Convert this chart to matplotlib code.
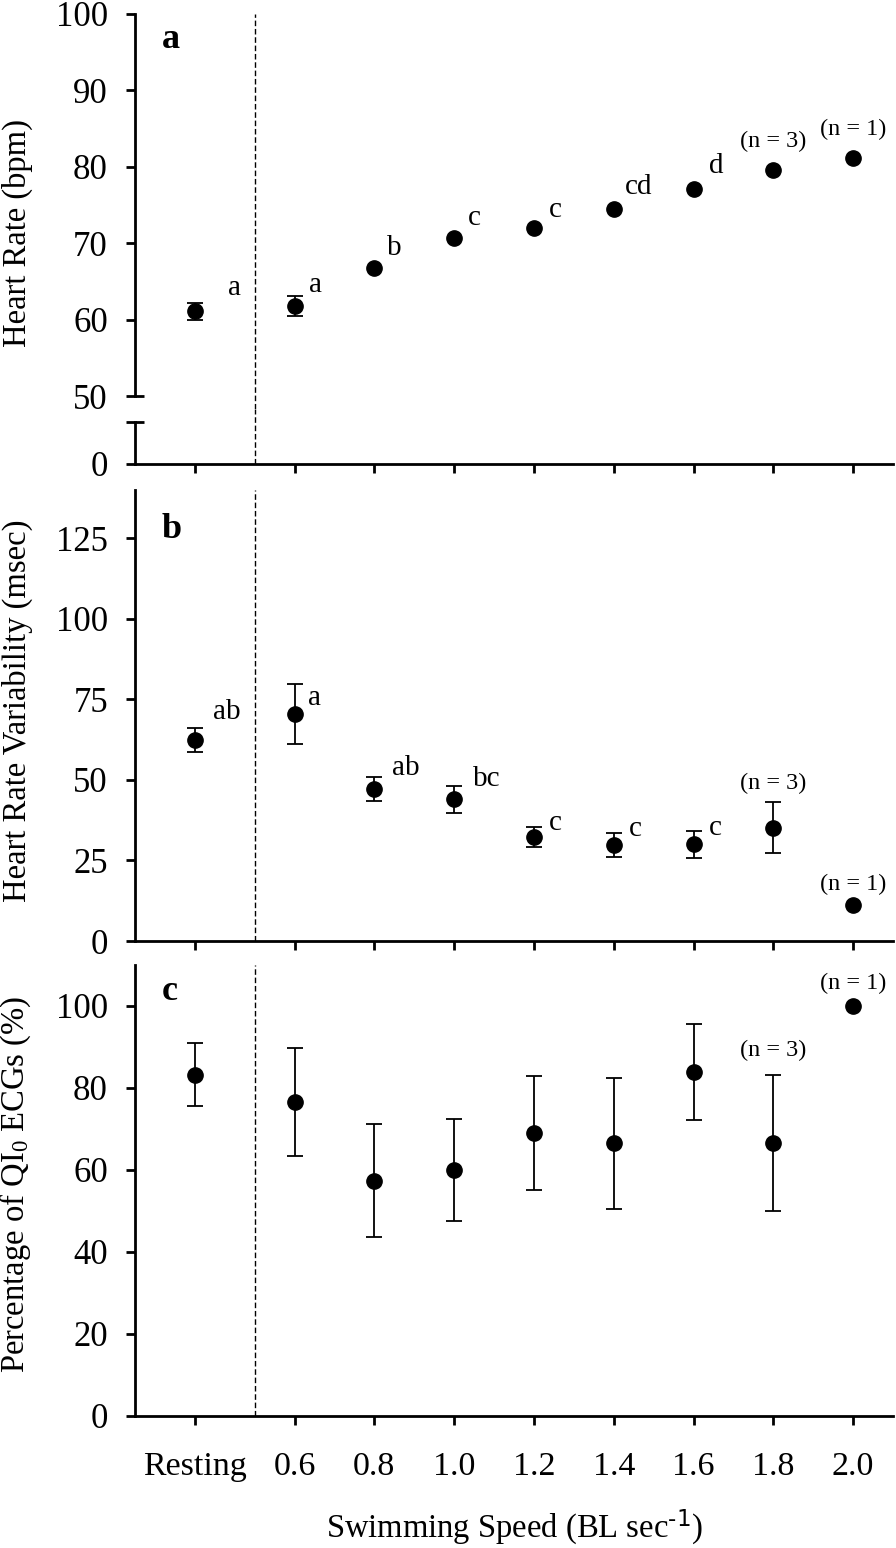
import numpy as np
import matplotlib
matplotlib.use("Agg")
import matplotlib.pyplot as plt

plt.rcParams["font.family"] = ["Liberation Serif", "DejaVu Serif"]
plt.rcParams["mathtext.default"] = "regular"

nan = np.nan

# ── data ───────────────────────────────────────────────────────────────────
SPEEDS = ["Resting", "0.6", "0.8", "1.0", "1.2", "1.4", "1.6", "1.8", "2.0"]

HR = [61.1, 61.8, 66.8, 70.7, 72.0, 74.5, 77.1, 79.6, 81.2]
HR_ERR = [1.1, 1.3, nan, nan, nan, nan, nan, nan, nan]
HR_LETTERS = ["a", "a", "b", "c", "c", "cd", "d", "", ""]

HRV = [62.4, 70.5, 47.3, 44.0, 32.3, 29.9, 30.0, 35.2, 11.2]
HRV_ERR = [3.6, 9.2, 3.75, 4.15, 3.2, 3.7, 4.2, 8.0, nan]
HRV_LETTERS = ["ab", "a", "ab", "bc", "c", "c", "c", "", ""]

QI0 = [83.2, 76.6, 57.4, 59.9, 69.0, 66.5, 83.9, 66.5, 100.0]
QI0_ERR = [7.7, 13.1, 13.75, 12.45, 13.9, 16.0, 11.6, 16.55, nan]

N_NOTES = ["", "", "", "", "", "", "", "(n = 3)", "(n = 1)"]

# ── layout helpers ─────────────────────────────────────────────────────────
W, H = 896, 1548
LEFT, RIGHT = 135, 893
xpos = np.r_[-1.25, np.arange(8)]   # resting sits a bit apart from the speeds
DIVIDER = -0.5
XLIM = (-2, 7.5)

TICK_KW = dict(direction="out", length=6.5, width=2)


def rect(top, bot):
    return [LEFT / W, 1 - bot / H, (RIGHT - LEFT) / W, (bot - top) / H]


def style(ax, bottom=True):
    ax.spines["top"].set_visible(False)
    ax.spines["right"].set_visible(False)
    ax.spines["left"].set_linewidth(2)
    ax.spines["bottom"].set_linewidth(2)
    ax.spines["bottom"].set_visible(bottom)
    ax.set_xlim(*XLIM)
    ax.tick_params(axis="y", pad=13, labelsize=25, **TICK_KW)
    if bottom:
        ax.set_xticks(xpos)
        ax.set_xticklabels([])
        ax.tick_params(axis="x", pad=19, labelsize=24.5, **TICK_KW)
    else:
        ax.set_xticks([])
    ax.axvline(DIVIDER, color="black", lw=1, ls=(0, (4, 2)), zorder=1)


def draw_points(ax, y, err):
    y = np.asarray(y, float)
    err = np.asarray(err, float)
    m = ~np.isnan(err)
    ax.errorbar(xpos[m], y[m], yerr=err[m], fmt="none", ecolor="black",
                elinewidth=1.3, capsize=6, capthick=1.3, zorder=2)
    ax.plot(xpos, y, "o", color="black", ms=11, zorder=3, clip_on=False)


def letters(ax, y, labels, offsets):
    for i, (lab, off) in enumerate(zip(labels, offsets)):
        if lab:
            ax.annotate(lab, (xpos[i], y[i]), xytext=off,
                        textcoords="offset pixels", ha="left",
                        va="baseline", fontsize=21)


def n_notes(ax, y, offsets):
    for i, lab in enumerate(N_NOTES):
        if lab:
            ax.annotate(lab, (xpos[i], y[i]), xytext=(0, offsets[lab]),
                        textcoords="offset pixels", ha="center",
                        va="baseline", fontsize=17.5)


def break_mark(ax, val):
    # short tick to the right of the spine where the axis is broken
    ax.plot([0, 9 / (RIGHT - LEFT)], [val, val], color="black", lw=2,
            transform=ax.get_yaxis_transform(), clip_on=False,
            solid_capstyle="butt")


fig = plt.figure(figsize=(W / 100, H / 100), dpi=100)

# ── panel a: heart rate, broken y axis ─────────────────────────────────────
ax_a = fig.add_axes(rect(14, 409))
ax_a0 = fig.add_axes(rect(409, 464))
style(ax_a, bottom=False)
style(ax_a0)
ax_a.set_ylim(48.3, 100)
ax_a.set_yticks(np.arange(50, 101, 10))
ax_a.spines["left"].set_bounds(50, 100)
break_mark(ax_a, 50)
ax_a0.set_ylim(0, 1.31)
ax_a0.set_yticks([0, 1])
ax_a0.set_yticklabels(["0", ""])
ax_a0.spines["left"].set_bounds(0, 1)
break_mark(ax_a0, 1)

draw_points(ax_a, HR, HR_ERR)
letters(ax_a, HR, HR_LETTERS,
        [(33, 16), (14, 14), (13, 13), (14, 13), (15, 11), (11, 15), (15, 16)])
n_notes(ax_a, HR, {"(n = 3)": 23, "(n = 1)": 23})
ax_a.set_ylabel("Heart Rate (bpm)", fontsize=23.5)
ax_a.yaxis.set_label_coords(33 / W, 1 - 233 / H, transform=fig.transFigure)

# ── panel b: heart rate variability ───────────────────────────────────────
ax_b = fig.add_axes(rect(490, 941))
style(ax_b)
ax_b.set_ylim(0, 140)
ax_b.set_yticks(np.arange(0, 126, 25))
draw_points(ax_b, HRV, HRV_ERR)
letters(ax_b, HRV, HRV_LETTERS,
        [(18, 21), (13, 9), (18, 14), (19, 13), (15, 7), (15, 9), (15, 9)])
n_notes(ax_b, HRV, {"(n = 3)": 39, "(n = 1)": 15})
ax_b.set_ylabel("Heart Rate Variability (msec)", fontsize=23.5)
ax_b.yaxis.set_label_coords(33 / W, 1 - 711 / H, transform=fig.transFigure)

# ── panel c: percentage of QI0 ECGs ───────────────────────────────────────
ax_c = fig.add_axes(rect(965, 1416))
style(ax_c)
ax_c.set_ylim(0, 110)
ax_c.set_yticks(np.arange(0, 101, 20))
ax_c.set_xticklabels(SPEEDS)
draw_points(ax_c, QI0, QI0_ERR)
n_notes(ax_c, QI0, {"(n = 3)": 87, "(n = 1)": 17})
ax_c.set_ylabel("Percentage of QI$_0$ ECGs (%)", fontsize=23.5)
ax_c.yaxis.set_label_coords(33 / W, 1 - 1184 / H, transform=fig.transFigure)
ax_c.set_xlabel(r"Swimming Speed (BL sec$^{\text{-1}}$)", fontsize=23.5)
ax_c.xaxis.set_label_coords((LEFT + RIGHT) / 2 / W, 1 - 1508 / H,
                            transform=fig.transFigure)

# panel letters
for lab, base in [("a", 48), ("b", 538), ("c", 1000)]:
    fig.text(162 / W, 1 - base / H, lab, fontsize=26, fontweight="bold",
             va="baseline")

fig.savefig("out.png", dpi=100)
print("Saved: out.png")
